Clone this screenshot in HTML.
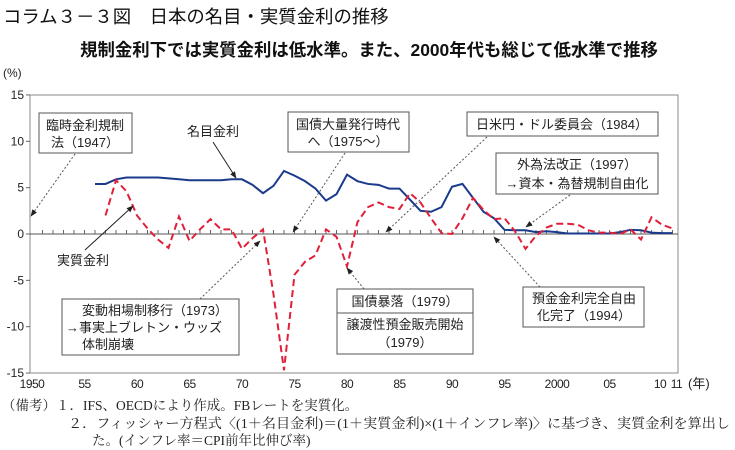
<!DOCTYPE html>
<html><head><meta charset="utf-8">
<style>
body{margin:0;background:#fff;}
svg{display:block;font-family:"Liberation Sans","Noto Sans CJK JP",sans-serif;}
.ann{font-size:13px;fill:#222;}
.foot{font-family:"Liberation Serif","Noto Serif CJK SC",serif;font-size:13.5px;fill:#222;}
</style></head>
<body>
<svg id="chart" width="735" height="450" viewBox="0 0 735 450">
<defs>
<marker id="ah" viewBox="0 0 10 10" refX="9" refY="5" markerWidth="7" markerHeight="7" orient="auto"><path d="M0,1 L10,5 L0,9 z" fill="#222"/></marker>
</defs>
<text x="3" y="23" font-size="18.4" fill="#111">コラム３－３図　日本の名目・実質金利の推移</text>
<text x="369" y="56" font-size="17.4" font-weight="bold" fill="#111" text-anchor="middle">規制金利下では実質金利は低水準。また、2000年代も総じて低水準で推移</text>
<text x="3" y="77" font-size="12" fill="#222">(%)</text>
<rect x="30" y="95" width="648" height="278" fill="none" stroke="#888" stroke-width="1"/>
<g id="yaxis"></g>
<g id="xaxis"></g>
<g id="series"></g>
<text x="688" y="388" font-size="13" fill="#222">(年)</text>

<g>
<rect x="39" y="113" width="93" height="40" fill="#fff" stroke="#555"/>
<text class="ann" x="85" y="130" text-anchor="middle">臨時金利規制</text>
<text class="ann" x="85" y="147" text-anchor="middle">法（1947）</text>
<line x1="75" y1="154" x2="31" y2="216" stroke="#555" stroke-dasharray="2,2" marker-end="url(#ah)"/>
</g>
<g>
<text class="ann" x="213" y="136" text-anchor="middle">名目金利</text>
<line x1="213" y1="142" x2="236" y2="178" stroke="#222" marker-end="url(#ah)"/>
</g>
<g>
<text class="ann" x="83" y="265" text-anchor="middle">実質金利</text>
<line x1="85" y1="250" x2="133" y2="206" stroke="#222" marker-end="url(#ah)"/>
</g>
<g>
<rect x="62" y="299" width="177" height="56" fill="#fff" stroke="#555"/>
<text class="ann" x="82" y="315">変動相場制移行（1973）</text>
<text class="ann" x="66" y="332">→事実上ブレトン・ウッズ</text>
<text class="ann" x="82" y="349">体制崩壊</text>
<line x1="200" y1="299" x2="260" y2="241" stroke="#555" stroke-dasharray="2,2" marker-end="url(#ah)"/>
</g>
<g>
<rect x="288" y="112" width="121" height="40" fill="#fff" stroke="#555"/>
<text class="ann" x="348" y="129" text-anchor="middle">国債大量発行時代</text>
<text class="ann" x="348" y="146" text-anchor="middle">へ（1975～）</text>
<line x1="345" y1="153" x2="293" y2="232" stroke="#555" stroke-dasharray="2,2" marker-end="url(#ah)"/>
</g>
<g>
<rect x="467" y="112" width="191" height="24" fill="#fff" stroke="#555"/>
<text class="ann" x="562" y="129" text-anchor="middle">日米円・ドル委員会（1984）</text>
<line x1="487" y1="137" x2="386" y2="232" stroke="#555" stroke-dasharray="2,2" marker-end="url(#ah)"/>
</g>
<g>
<rect x="496" y="153" width="162" height="41" fill="#fff" stroke="#555"/>
<text class="ann" x="577" y="169" text-anchor="middle">外為法改正（1997）</text>
<text class="ann" x="577" y="188" text-anchor="middle">→資本・為替規制自由化</text>
<line x1="570" y1="195" x2="526" y2="227" stroke="#555" stroke-dasharray="2,2" marker-end="url(#ah)"/>
</g>
<g>
<rect x="337" y="289" width="136" height="65" fill="#fff" stroke="#555"/>
<line x1="337" y1="313" x2="473" y2="313" stroke="#555"/>
<text class="ann" x="405" y="306" text-anchor="middle">国債暴落（1979）</text>
<text class="ann" x="405" y="329" text-anchor="middle">譲渡性預金販売開始</text>
<text class="ann" x="405" y="347" text-anchor="middle">（1979）</text>
<line x1="364" y1="289" x2="347" y2="268" stroke="#555" stroke-dasharray="2,2" marker-end="url(#ah)"/>
</g>
<g>
<rect x="523" y="287" width="121" height="40" fill="#fff" stroke="#555"/>
<text class="ann" x="584" y="303" text-anchor="middle">預金金利完全自由</text>
<text class="ann" x="584" y="320" text-anchor="middle">化完了（1994）</text>
<line x1="540" y1="287" x2="494" y2="237" stroke="#555" stroke-dasharray="2,2" marker-end="url(#ah)"/>
</g>

<g>
<text class="foot" x="2" y="410">（備考）１．IFS、OECDにより作成。FBレートを実質化。</text>
<text class="foot" x="68" y="428" textLength="662" lengthAdjust="spacingAndGlyphs">２．フィッシャー方程式〈(1＋名目金利)＝(1＋実質金利)×(1＋インフレ率)〉に基づき、実質金利を算出し</text>
<text class="foot" x="92" y="445">た。(インフレ率＝CPI前年比伸び率)</text>
</g>
</svg>
<script>
const nominalYears = [1956,1957,1958,1959,1960,1961,1962,1963,1964,1965,1966,1967,1968,1969,1970,1971,1972,1973,1974,1975,1976,1977,1978,1979,1980,1981,1982,1983,1984,1985,1986,1987,1988,1989,1990,1991,1992,1993,1994,1995,1996,1997,1998,1999,2000,2001,2002,2003,2004,2005,2006,2007,2008,2009,2010,2011];
const nominalRates = [5.4,5.4,5.9,6.1,6.1,6.1,6.1,6.0,5.9,5.8,5.8,5.8,5.8,5.9,5.9,5.3,4.4,5.2,6.8,6.3,5.7,4.9,3.6,4.3,6.4,5.7,5.4,5.3,4.9,4.9,3.7,2.5,2.4,2.9,5.1,5.4,3.9,2.4,1.7,0.45,0.4,0.4,0.2,0.3,0.2,0.05,0.05,0.05,0.05,0.05,0.2,0.45,0.4,0.15,0.1,0.1];
const realYears = [1957,1958,1959,1960,1961,1962,1963,1964,1965,1966,1967,1968,1969,1970,1971,1972,1973,1974,1975,1976,1977,1978,1979,1980,1981,1982,1983,1984,1985,1986,1987,1988,1989,1990,1991,1992,1993,1994,1995,1996,1997,1998,1999,2000,2001,2002,2003,2004,2005,2006,2007,2008,2009,2010,2011];
const realRates = [2.0,5.8,4.6,2.0,0.6,-0.6,-1.5,1.9,-0.75,0.5,1.6,0.5,0.5,-1.6,-0.45,0.5,-6.5,-14.7,-4.4,-3.0,-2.3,0.5,-0.3,-3.5,1.3,2.9,3.4,2.9,2.7,4.4,3.4,1.7,0.1,0.0,1.7,3.9,2.6,1.6,1.7,0.3,-1.6,-0.2,0.7,1.1,1.1,1.0,0.4,0.15,0.15,0.0,0.5,-0.6,1.8,1.0,0.6];
const yTicks = [15,10,5,0,-5,-10,-15];
const xTickYears = [1950,1955,1960,1965,1970,1975,1980,1985,1990,1995,2000,2005,2010,2011];
const xTickLabels = ["1950","55","60","65","70","75","80","85","90","95","2000","05","10","11"];

const NS="http://www.w3.org/2000/svg";
const X = yr => 32 + (yr-1950)*10.5;
const Y = v => 234 - v*9.27;
function mk(tag, attrs, parent){const e=document.createElementNS(NS,tag);for(const k in attrs)e.setAttribute(k,attrs[k]);parent.appendChild(e);return e;}

const ya=document.getElementById('yaxis');
yTicks.forEach(v=>{
  const t=mk('line',{x1:26,x2:30,y1:Y(v),y2:Y(v),stroke:'#666'},ya);
  
  
  const l=mk('text',{x:24,y:Y(v)+4,'text-anchor':'end','font-size':12,fill:'#222'},ya);
  l.textContent=v;
  
  
});
const xa=document.getElementById('xaxis');
const zl=mk('line',{x1:30,x2:678,y1:Y(0),y2:Y(0),stroke:'#555'},xa);


for(let yr=1951;yr<=2011;yr++){
  const t=mk('line',{x1:X(yr),x2:X(yr),y1:Y(0),y2:Y(0)-4,stroke:'#666'},xa);
  
  
}
xTickYears.forEach((yr,i)=>{
  let px=X(yr);
  if(yr===2010) px-=2;
  if(yr===2011) px+=4;
  const l=mk('text',{x:px,y:388,'text-anchor':'middle','font-size':12,'letter-spacing':'-0.5',fill:'#222'},xa);
  l.textContent=xTickLabels[i];
  
  
});
const sg=document.getElementById('series');
const nom=mk('polyline',{points:nominalYears.map((y,i)=>X(y)+','+Y(nominalRates[i])).join(' '),fill:'none',stroke:'#1a3a8c','stroke-width':2},sg);


const real=mk('polyline',{points:realYears.map((y,i)=>X(y)+','+Y(realRates[i])).join(' '),fill:'none',stroke:'#e0203a','stroke-width':2,'stroke-dasharray':'7,4'},sg);


</script>
</body></html>
